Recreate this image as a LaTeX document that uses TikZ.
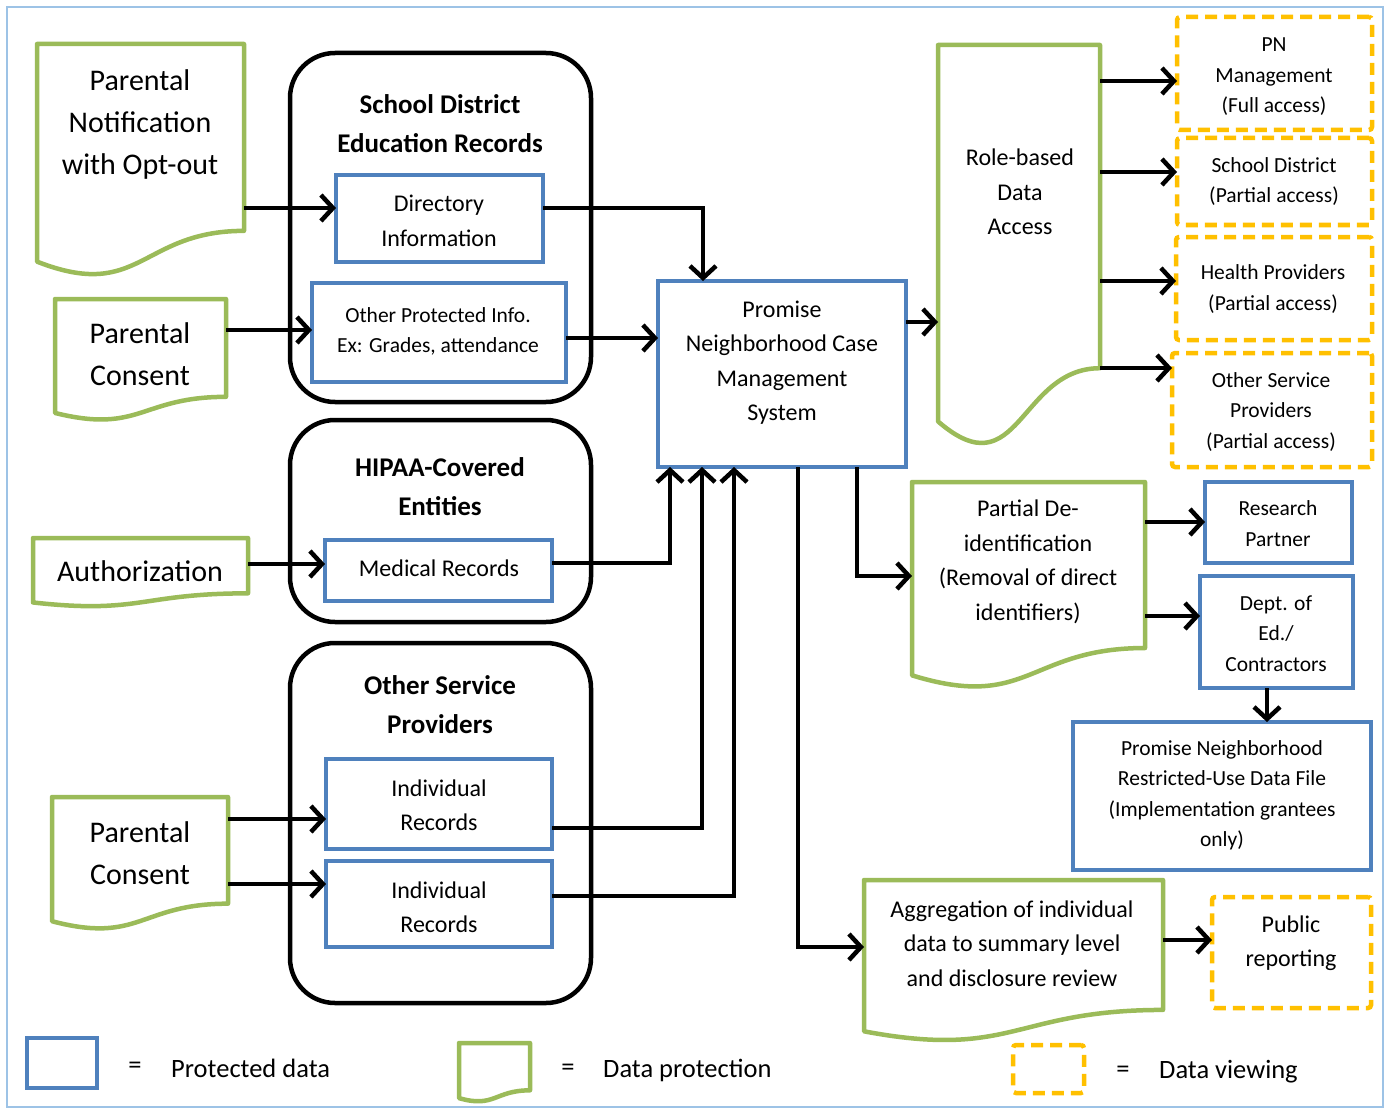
\documentclass[tikz,border=0pt]{standalone}
\usepackage{fontspec}
\setmainfont{Carlito}
\usetikzlibrary{arrows.meta,calc}
\definecolor{pgreen}{HTML}{9BBB59}
\definecolor{pblue}{HTML}{4F81BD}
\definecolor{pyel}{HTML}{FFC000}
\definecolor{pframe}{HTML}{9DC3E6}
\newcommand\docoutline[1]{%
  \draw[docline] let \p1=(#1.north west), \p2=(#1.south east) in
  (\x1,\y1) -- (\x2,\y1) -- (\x2,{\y1+0.802*(\y2-\y1)})
  .. controls ({0.5*(\x1+\x2)},{\y1+0.802*(\y2-\y1)}) and ({0.5*(\x1+\x2)},{\y1+1.108*(\y2-\y1)}) ..
  (\x1,{\y1+0.934*(\y2-\y1)}) -- cycle;}
\tikzset{
  shapebox/.style={rectangle, inner sep=0pt, outer sep=0pt},
  pbox/.style={shapebox, draw=pblue, line width=4.3pt},
  cbox/.style={shapebox, draw=black, line width=4.5pt, rounded corners=45pt},
  ybox/.style={shapebox, draw=pyel, line width=4.5pt, dash pattern=on 12pt off 7pt, rounded corners=3pt},
  gbox/.style={shapebox},
  docline/.style={draw=pgreen, line width=4.5pt, line join=round},
  arr/.style={line width=4.5pt, -{Straight Barb[length=12pt,width=26pt]}},
  txt/.style={inner sep=0pt, align=center},
  tbig/.style={txt, font=\fontsize{30}{42}\selectfont},
  thead/.style={txt, font=\bfseries\fontsize{27}{39}\selectfont},
  tnorm/.style={txt, font=\fontsize{24}{34.5}\selectfont},
  tsmall/.style={txt, font=\fontsize{21.5}{30.5}\selectfont},
  tleg/.style={txt, font=\fontsize{26.5}{32}\selectfont},
}
\begin{document}
\begin{tikzpicture}[x=1pt,y=-1pt]
\useasboundingbox (0,0) rectangle (1389,1110);
\fill[white] (0,0) rectangle (1389,1110);
\draw[pframe, line width=1.5pt] (7,7) rectangle (1383,1107);

% containers
\node[cbox, minimum width=301pt, minimum height=349pt] (sd) at (440.5,227.5) {};
\node[cbox, minimum width=301pt, minimum height=202pt] (hip) at (440.5,521) {};
\node[cbox, minimum width=301pt, minimum height=360pt] (osp) at (440.5,823) {};

% green document shapes
\node[gbox, minimum width=207pt, minimum height=233pt] (pno) at (140.5,160.5) {};
\node[gbox, minimum width=171pt, minimum height=122pt] (pc1) at (140.5,360) {};
\node[gbox, minimum width=215pt, minimum height=69pt] (auth) at (140.5,572.5) {};
\node[gbox, minimum width=176pt, minimum height=133pt] (pc2) at (140,863.5) {};
\node[gbox, minimum width=162pt, minimum height=403pt] (rba) at (1019,246.5) {};
\node[gbox, minimum width=233pt, minimum height=207pt] (pdi) at (1028.5,585.5) {};
\node[gbox, minimum width=299pt, minimum height=162pt] (agg) at (1013.5,961) {};
\node[gbox, minimum width=71pt, minimum height=59pt] (lgd) at (494.5,1072.5) {};
\docoutline{pno}
\docoutline{pc1}
\docoutline{auth}
\docoutline{pc2}
\docoutline{rba}
\docoutline{pdi}
\docoutline{agg}
\docoutline{lgd}

% blue boxes
\node[pbox, minimum width=207pt, minimum height=87pt] (dir) at (439.5,218.5) {};
\node[pbox, minimum width=254pt, minimum height=99pt] (opi) at (439,332.5) {};
\node[pbox, minimum width=227pt, minimum height=61pt] (med) at (438.5,570.5) {};
\node[pbox, minimum width=226pt, minimum height=90pt] (ind1) at (439,804) {};
\node[pbox, minimum width=226pt, minimum height=86pt] (ind2) at (439,904) {};
\node[pbox, minimum width=248pt, minimum height=186pt] (pncms) at (782,374) {};
\node[pbox, minimum width=147pt, minimum height=81pt] (res) at (1278.5,522.5) {};
\node[pbox, minimum width=153pt, minimum height=112pt] (dept) at (1276.5,632) {};
\node[pbox, minimum width=298pt, minimum height=148pt] (pnru) at (1222,796) {};
\node[pbox, minimum width=70pt, minimum height=50pt] (lbl) at (62,1063) {};

% yellow dashed boxes
\node[ybox, minimum width=195pt, minimum height=113pt] (pnm) at (1274.5,73.5) {};
\node[ybox, minimum width=195pt, minimum height=87pt] (sdp) at (1274.5,181.5) {};
\node[ybox, minimum width=196pt, minimum height=103pt] (hp) at (1274,288.5) {};
\node[ybox, minimum width=200pt, minimum height=114pt] (osp2) at (1272,410) {};
\node[ybox, minimum width=159pt, minimum height=111pt] (pub) at (1291.5,952.5) {};
\node[ybox, minimum width=71pt, minimum height=48pt] (lyl) at (1048.5,1069) {};

% texts
\node[tbig] (t-pno) at (140,125) {Parental\\Notification\\with Opt-out};
\node[tbig] (t-pc1) at (140,354.5) {Parental\\Consent};
\node[tbig] (t-auth) at (140,571) {Authorization};
\node[tbig] (t-pc2) at (140,853) {Parental\\Consent};
\node[thead] (t-sd) at (440,123.5) {School District\\Education Records};
\node[tnorm] (t-dir) at (439,221) {Directory\\Information};
\node[tsmall] (t-opi) at (438,331.5) {Other Protected Info.\\Ex: Grades, attendance};
\node[thead] (t-hip) at (440,486.5) {HIPAA-Covered\\Entities};
\node[tnorm] (t-med) at (439,568.5) {Medical Records};
\node[thead] (t-osp) at (440,705) {Other Service\\Providers};
\node[tnorm] (t-ind1) at (439,805) {Individual\\Records};
\node[tnorm] (t-ind2) at (439,907) {Individual\\Records};
\node[tnorm] (t-pn) at (782,362.5) {Promise\\Neighborhood Case\\Management\\System};
\node[tnorm] (t-rba) at (1020,192) {Role-based\\Data\\Access};
\node[tsmall] (t-pnm) at (1274,77) {PN\\Management\\(Full access)};
\node[tsmall] (t-sdp) at (1274,181.5) {School District\\(Partial access)};
\node[tsmall] (t-hp) at (1273,289) {Health Providers\\(Partial access)};
\node[tsmall] (t-osp2) at (1271,412) {Other Service\\Providers\\(Partial access)};
\node[tnorm] (t-pdi) at (1028,562) {Partial De-\\identification\\(Removal of direct\\identifiers)};
\node[tsmall] (t-res) at (1278,523.5) {Research\\Partner};
\node[tsmall] (t-dept) at (1276,633.5) {Dept. of\\Ed./\\Contractors};
\node[tsmall] (t-pnru) at (1222,795.5) {Promise Neighborhood\\Restricted-Use Data File\\(Implementation grantees\\only)};
\node[tnorm] (t-agg) at (1012,943.5) {Aggregation of individual\\data to summary level\\and disclosure review};
\node[tnorm] (t-pub) at (1291,943) {Public\\reporting};

% legend texts
\node[tleg] (eq1) at (135,1068) {=};
\node[tleg, anchor=west] (l1) at (171,1068) {Protected data};
\node[tleg] (eq2) at (568,1070) {=};
\node[tleg, anchor=west] (l2) at (603,1070) {Data protection};
\node[tleg] (eq3) at (1123,1072) {=};
\node[tleg, anchor=west] (l3) at (1159,1072) {Data viewing};

% connectors
\draw[arr] (pno.east |- 0,208) -- (dir.west |- 0,208);
\draw[arr] (pc1.east |- 0,330) -- (opi.west |- 0,330);
\draw[arr] (dir.east |- 0,208) -| (pncms.north -| 703,0);
\draw[arr] (opi.east |- 0,338) -- (pncms.west |- 0,338);
\draw[arr] (pncms.east |- 0,322) -- (rba.west |- 0,322);
\draw[arr] (rba.east |- 0,81) -- (pnm.west |- 0,81);
\draw[arr] (rba.east |- 0,172) -- (sdp.west |- 0,172);
\draw[arr] (rba.east |- 0,281) -- (hp.west |- 0,281);
\draw[arr] (rba.east |- 0,368) -- (osp2.west |- 0,368);
\draw[arr] (auth.east |- 0,564) -- (med.west |- 0,564);
\draw[arr] (med.east |- 0,563) -| (pncms.south -| 670,0);
\draw[arr] (pc2.east |- 0,819) -- (ind1.west |- 0,819);
\draw[arr] (pc2.east |- 0,884) -- (ind2.west |- 0,884);
\draw[arr] (ind1.east |- 0,828) -| (pncms.south -| 702,0);
\draw[arr] (ind2.east |- 0,896) -| (pncms.south -| 734,0);
\draw[arr] (pncms.south -| 857,0) |- (pdi.west |- 0,576);
\draw[arr] (pncms.south -| 798,0) |- (agg.west |- 0,947);
\draw[arr] (pdi.east |- 0,522) -- (res.west |- 0,522);
\draw[arr] (pdi.east |- 0,616) -- (dept.west |- 0,616);
\draw[arr] (dept.south -| 1267,0) -- (pnru.north -| 1267,0);
\draw[arr] (agg.east |- 0,940) -- (pub.west |- 0,940);
\end{tikzpicture}
\end{document}
